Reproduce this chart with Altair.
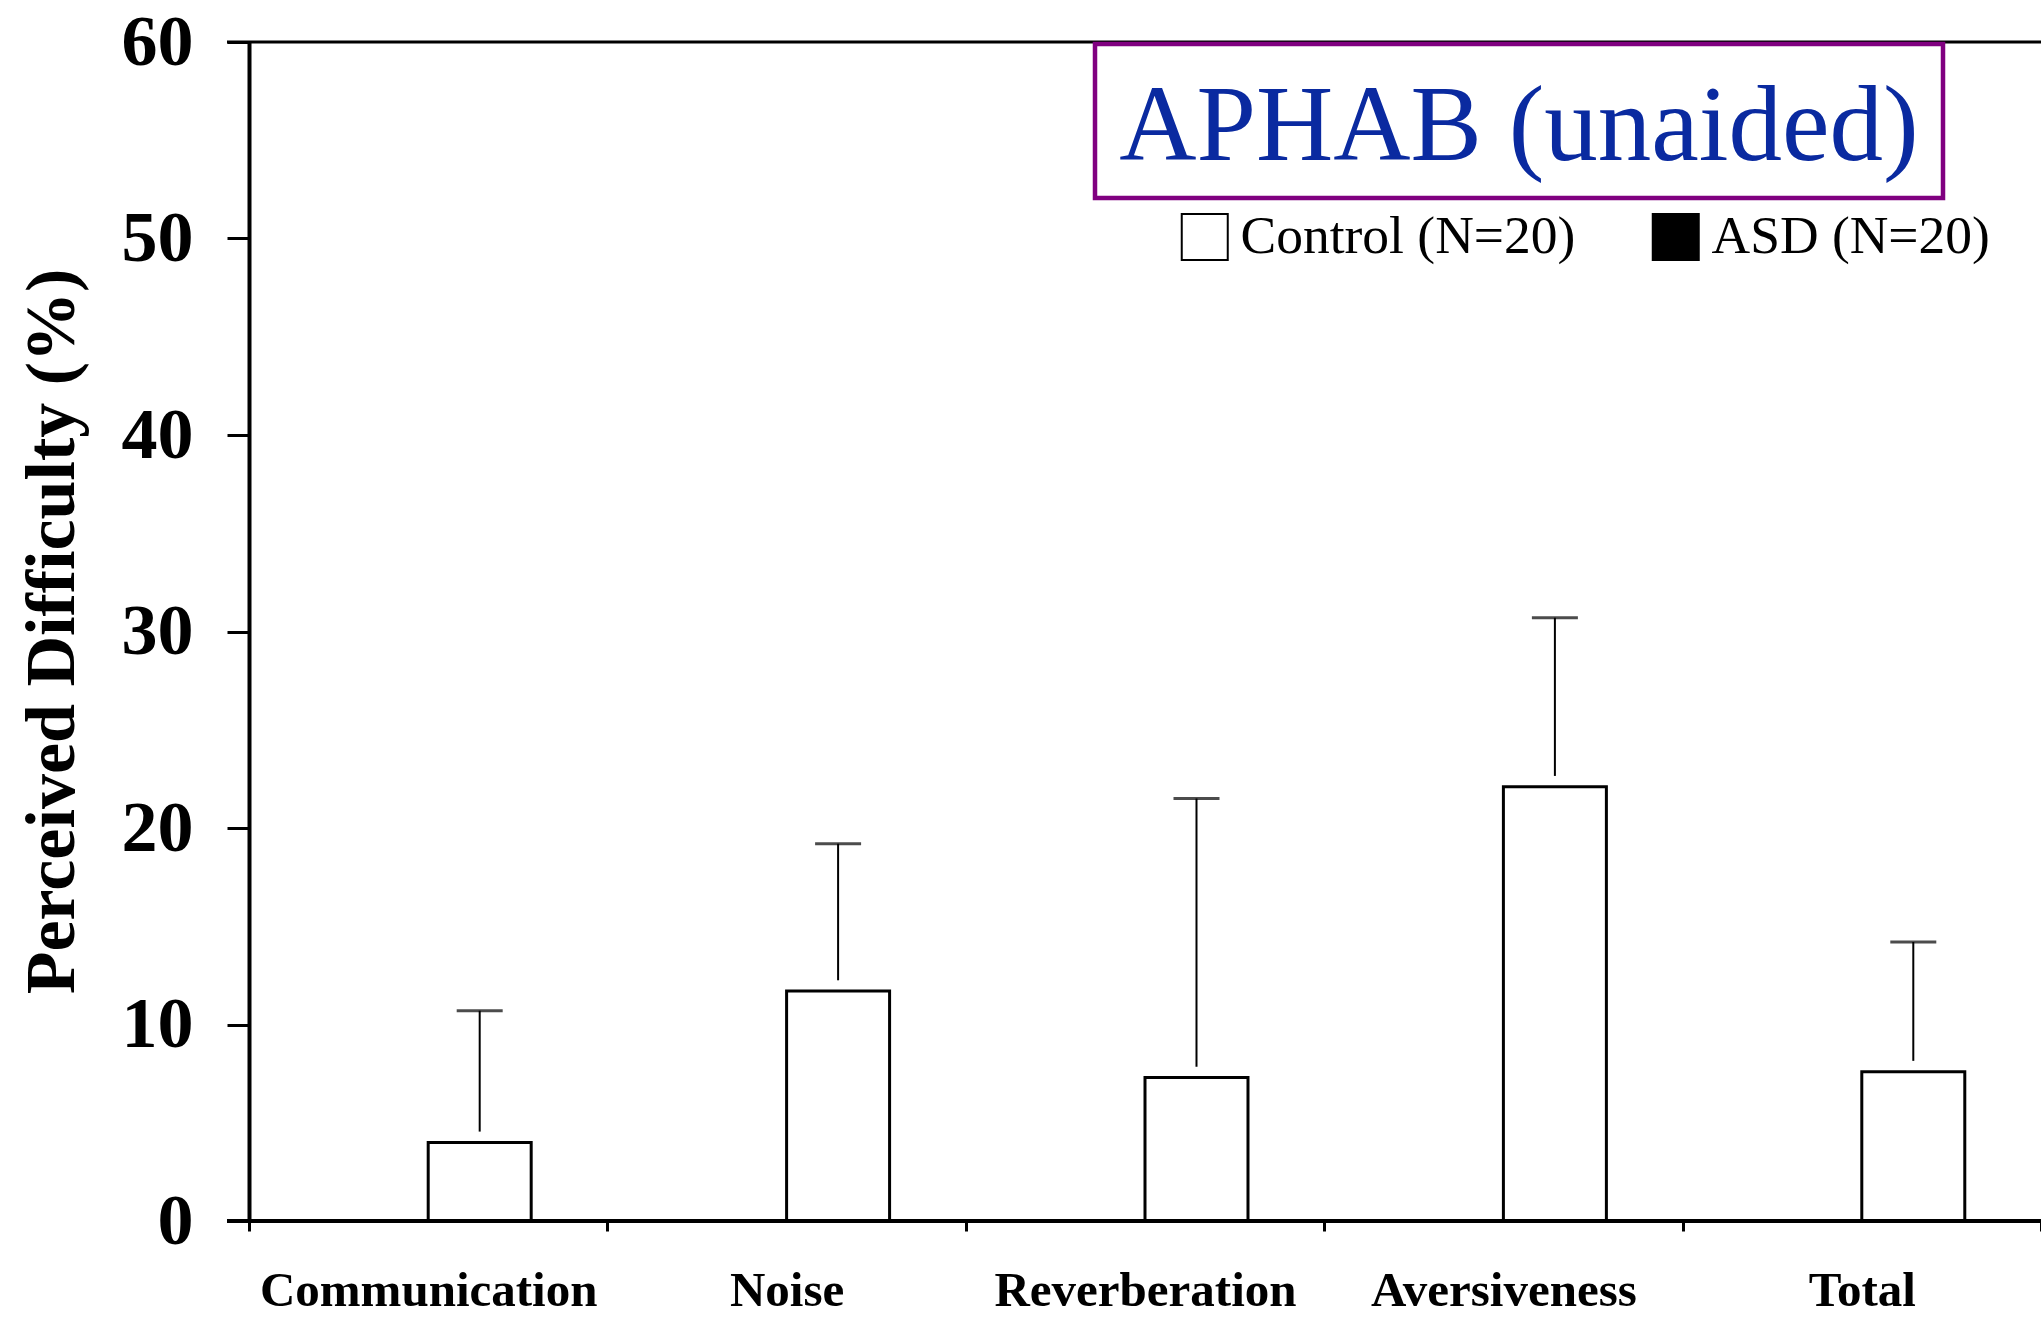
import altair as alt
import pandas as pd

categories = ["Communication", "Noise", "Reverberation", "Aversiveness", "Total"]
control_mean = [4.0, 11.7, 7.3, 22.1, 7.6]
control_upper = [10.7, 19.2, 21.5, 30.7, 14.2]
group_control = "Control (N=20)"
group_asd = "ASD (N=20)"
title_text = "APHAB (unaided)"
y_title = "Perceived Difficulty (%)"
y_ticks = [0, 10, 20, 30, 40, 50, 60]

W, H = 1792, 1179
SERIF = "Liberation Serif"

df = pd.DataFrame({
    "category": categories,
    "mean": control_mean,
    "upper": control_upper,
    "group": [group_control] * len(categories),
})

xenc = alt.X(
    "category:N", sort=categories,
    scale=alt.Scale(paddingInner=0, paddingOuter=0),
    axis=alt.Axis(title=None, tickBand="extent", domain=False, labelAngle=0,
                  labelFont=SERIF, labelFontSize=49, labelFontWeight="bold",
                  labelColor="black", labelPadding=35, labelLimit=1000,
                  tickSize=10, tickWidth=3, tickColor="black", grid=False),
)
xoff = alt.XOffset("group:N", scale=alt.Scale(domain=[group_asd, group_control], paddingInner=0, paddingOuter=0.74))
yscale = alt.Scale(domain=[0, 60], nice=False)

base = alt.Chart(df)

bars = base.mark_bar(stroke="black", strokeWidth=3).encode(
    x=xenc,
    xOffset=xoff,
    y=alt.Y("mean:Q", scale=yscale,
            axis=alt.Axis(title=y_title, values=y_ticks, grid=False,
                          tickSize=22, tickWidth=3, tickColor="black",
                          domainWidth=4, domainColor="black",
                          labelFont=SERIF, labelFontSize=72, labelFontWeight="bold",
                          labelColor="black", labelPadding=34,
                          titleFont=SERIF, titleFontSize=70, titleFontWeight="bold",
                          titleColor="black", titleAngle=270, titleX=-197, titleY=589,
                          titleBaseline="middle", titleAlign="center")),
    fill=alt.Fill("group:N", scale=alt.Scale(domain=[group_control, group_asd], range=["white", "black"]),
                  legend=alt.Legend(title=None, orient="none", legendX=929, legendY=168,
                                    direction="horizontal", symbolType="square", symbolSize=2116,
                                    symbolStrokeColor="black", symbolStrokeWidth=2,
                                    labelFont=SERIF, labelFontSize=53.5, labelColor="black",
                                    labelLimit=800, labelOffset=9, columnPadding=72, padding=0)),
)

whisk = base.transform_calculate(lo="datum.mean + 0.55").mark_rule(color="black", strokeWidth=2).encode(
    x=xenc, xOffset=xoff,
    y=alt.Y("lo:Q", scale=yscale), y2="upper:Q",
)

caps = base.mark_tick(color="black", thickness=3, size=46, orient="horizontal").encode(
    x=xenc, xOffset=xoff,
    y=alt.Y("upper:Q", scale=yscale),
)

one = pd.DataFrame({"k": [0]})
ann = alt.Chart(one)

top_line = ann.mark_rule(color="black", strokeWidth=3).encode(
    y=alt.datum(60, scale=yscale), x=alt.value(-22), x2=alt.value(W))
bottom_line = ann.mark_rule(color="black", strokeWidth=4).encode(
    y=alt.datum(0, scale=yscale), x=alt.value(-22), x2=alt.value(W))

box = ann.mark_rect(fill="white", fillOpacity=0, stroke="#800080", strokeWidth=4.5).encode(
    x=alt.value(846), x2=alt.value(1694), y=alt.value(2), y2=alt.value(156))
title = ann.mark_text(font=SERIF, fontSize=107, color="#0a2aa0", align="center", baseline="alphabetic").encode(
    x=alt.value(1270), y=alt.value(118), text=alt.value(title_text))

chart = alt.layer(bars, whisk, caps, top_line, bottom_line, box, title).properties(
    width=W, height=H,
    autosize=alt.AutoSizeParams(type="none"),
    padding={"left": 249, "top": 42, "right": 0, "bottom": 98},
    background="white",
).configure_view(stroke=None)

chart.save("out.html", embed_options={"renderer": "svg", "actions": False})
